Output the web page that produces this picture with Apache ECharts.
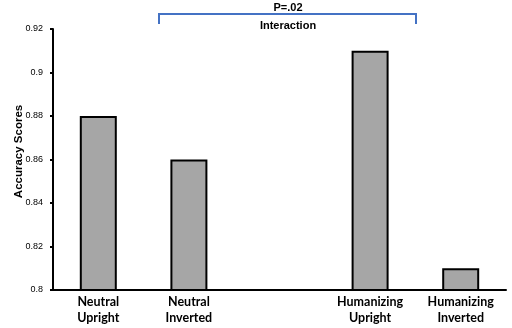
<!DOCTYPE html>
<html><head><meta charset="utf-8">
<script src="https://cdn.jsdelivr.net/npm/echarts@6/dist/echarts.min.js"></script>
<style>html,body{margin:0;padding:0;background:#fff}#c{width:512px;height:328px}</style>
</head><body><div id="c"></div>
<script>
const categories = ['Neutral\nUpright', 'Neutral\nInverted', '', 'Humanizing\nUpright', 'Humanizing\nInverted'];
const accuracy = [0.88, 0.86, null, 0.91, 0.81];
const yTicks = [0.8, 0.82, 0.84, 0.86, 0.88, 0.9, 0.92];
const bracketLabelTop = 'P=.02';
const bracketLabelBottom = 'Interaction';

const chart = echarts.init(document.getElementById('c'), null, {renderer: 'canvas'});
chart.setOption({
  animation: false,
  grid: {left: 53, right: 6, top: 29, bottom: 38, containLabel: false, outerBoundsMode: 'none'},
  xAxis: {
    type: 'category', data: categories,
    axisLine: {lineStyle: {color: '#000', width: 2}},
    axisTick: {show: false},
    axisLabel: {color: '#000', fontFamily: 'Lato', fontWeight: 'bold', fontSize: 12.5, lineHeight: 16, margin: 4, interval: 0}
  },
  yAxis: {
    type: 'value', min: yTicks[0], max: yTicks[yTicks.length - 1], interval: 0.02,
    name: 'Accuracy Scores', nameLocation: 'middle', nameGap: 28, nameRotate: 90, nameMoveOverlap: false,
    nameTextStyle: {color: '#000', fontFamily: 'Liberation Sans', fontWeight: 'bold', fontSize: 11.5, padding: [0, 0, 0, 16]},
    axisLine: {show: true, lineStyle: {color: '#000', width: 2}},
    axisTick: {show: true, length: 3, lineStyle: {color: '#000', width: 2}},
    splitLine: {show: false},
    axisLabel: {color: '#000', fontFamily: 'Liberation Sans', fontSize: 9, margin: 10,
      formatter: v => String(+v.toFixed(2))}
  },
  series: [{
    type: 'bar', data: accuracy, barWidth: 37,
    itemStyle: {color: '#a6a6a6', borderColor: '#000', borderWidth: 2}
  }],
  graphic: [
    {type: 'polyline', shape: {points: [[159, 24], [159, 14], [416, 14], [416, 24]]},
     style: {stroke: '#4472c4', lineWidth: 2, fill: null}},
    {type: 'text', x: 288, y: 8, style: {text: bracketLabelTop, font: 'bold 11px "Liberation Sans"', fill: '#000', align: 'center', verticalAlign: 'middle'}},
    {type: 'text', x: 288, y: 26, style: {text: bracketLabelBottom, font: 'bold 11px "Liberation Sans"', fill: '#000', align: 'center', verticalAlign: 'middle'}}
  ]
});
</script></body></html>
